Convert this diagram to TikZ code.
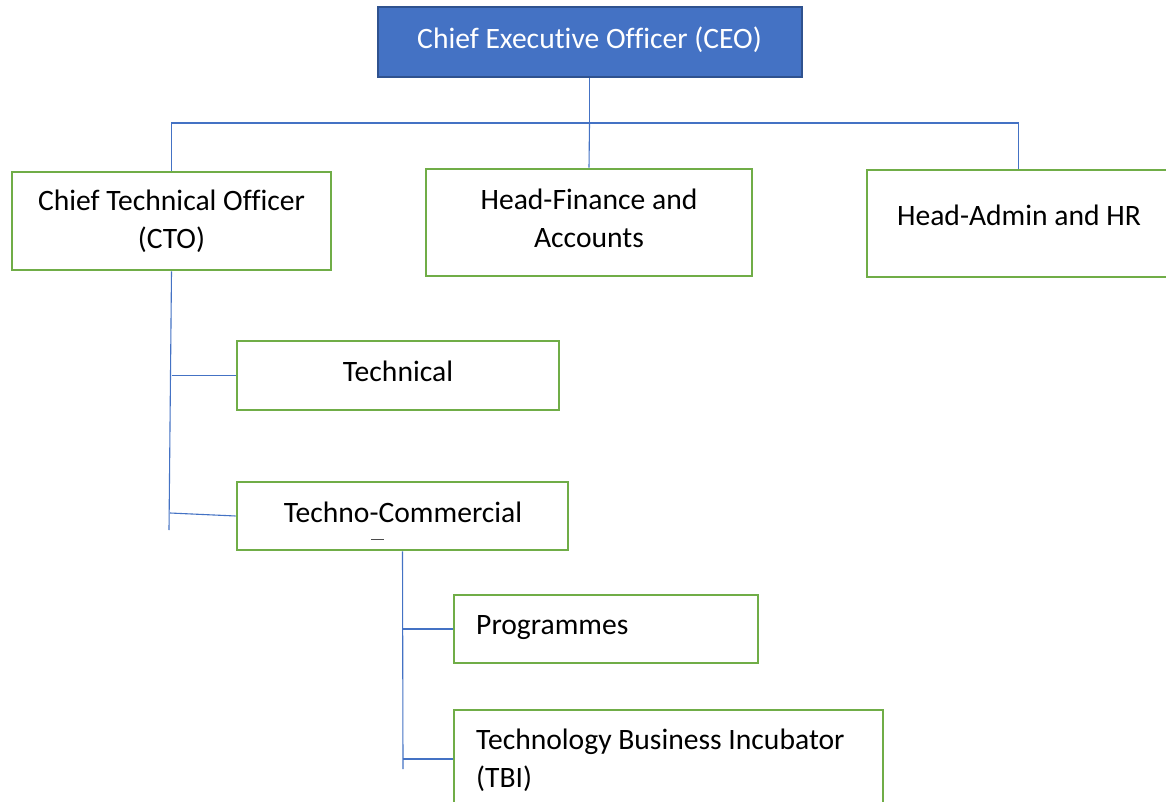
\documentclass[tikz,border=0pt]{standalone}
\usepackage{fontspec}
\setmainfont[Ligatures=CommonOff]{Carlito}
\definecolor{conn}{HTML}{4472C4}
\definecolor{ceofill}{HTML}{4472C4}
\definecolor{ceoedge}{HTML}{2F528F}
\definecolor{gedge}{HTML}{70AD47}
\tikzset{
  gbox/.style={draw=gedge, line width=2.6pt, fill=white, rectangle, inner sep=0pt},
  ceobox/.style={draw=ceoedge, line width=2pt, fill=ceofill, rectangle, inner sep=0pt},
  txt/.style={font=\fontsize{29.6}{38}\selectfont, inner sep=0pt, align=center},
  ltxt/.style={font=\fontsize{29.6}{38}\selectfont, inner sep=0pt, align=left, anchor=west},
  link/.style={draw=conn, line width=1.1pt}
}
\begin{document}
\begin{tikzpicture}[x=1pt,y=-1pt]
\useasboundingbox (0,0) rectangle (1166,802);
\clip (0,0) rectangle (1166,802);
\fill[white] (0,0) rectangle (1166,802);
% boxes
\node[ceobox, minimum width=424pt, minimum height=70pt] (ceo) at (589.5,42) {};
\node[gbox, minimum width=319pt, minimum height=98pt] (cto) at (171.5,221) {};
\node[gbox, minimum width=326pt, minimum height=107pt] (fin) at (589,222.5) {};
\node[gbox, minimum width=303pt, minimum height=107pt] (hr) at (1018.5,223.5) {};
\node[gbox, minimum width=322pt, minimum height=69pt] (tech) at (398,375.5) {};
\node[gbox, minimum width=331pt, minimum height=68pt] (tc) at (402.5,516) {};
\node[gbox, minimum width=304pt, minimum height=68pt] (prog) at (606,629) {};
\node[gbox, minimum width=429pt, minimum height=98pt] (tbi) at (668.5,759) {};
% texts
\node[txt, text=white] (ceot) at (589.5,40) {Chief Executive Officer (CEO)};
\node[txt] (ctot) at (171.5,221) {Chief Technical Officer\\(CTO)};
\node[txt] (fint) at (589,218) {Head-Finance and\\Accounts};
\node[txt] (hrt) at (1019,215) {Head-Admin and HR};
\node[txt] (techt) at (398,371) {Technical};
\node[txt] (tct) at (403,512) {Techno-Commercial};
\node[ltxt] (progt) at (476,628) {Programmes};
\node[ltxt] (tbit) at (476,760) {Technology Business Incubator\\(TBI)};
\draw[black!70, line width=0.8pt] (371,539) -- (384,539);
% connectors
\coordinate (bus) at (589.5,123);
\coordinate (ctoend) at (169,530);
\coordinate (tcend) at (403,769);
\draw[link] (ceo.south) -- (bus);
\draw[link] (cto.north) |- (bus) -| (hr.north);
\draw[link] (bus) -- (fin.north);
\draw[link] (cto.south) -- (ctoend);
\draw[link] (tech.west -| cto.south) -- (tech.west);
\draw[link] (170,513) -- (tc.west);
\draw[link] (tc.south) -- (tcend);
\draw[link] (prog.west -| tc.south) -- (prog.west);
\draw[link] (tbi.west -| tc.south) -- (tbi.west);
\end{tikzpicture}
\end{document}
